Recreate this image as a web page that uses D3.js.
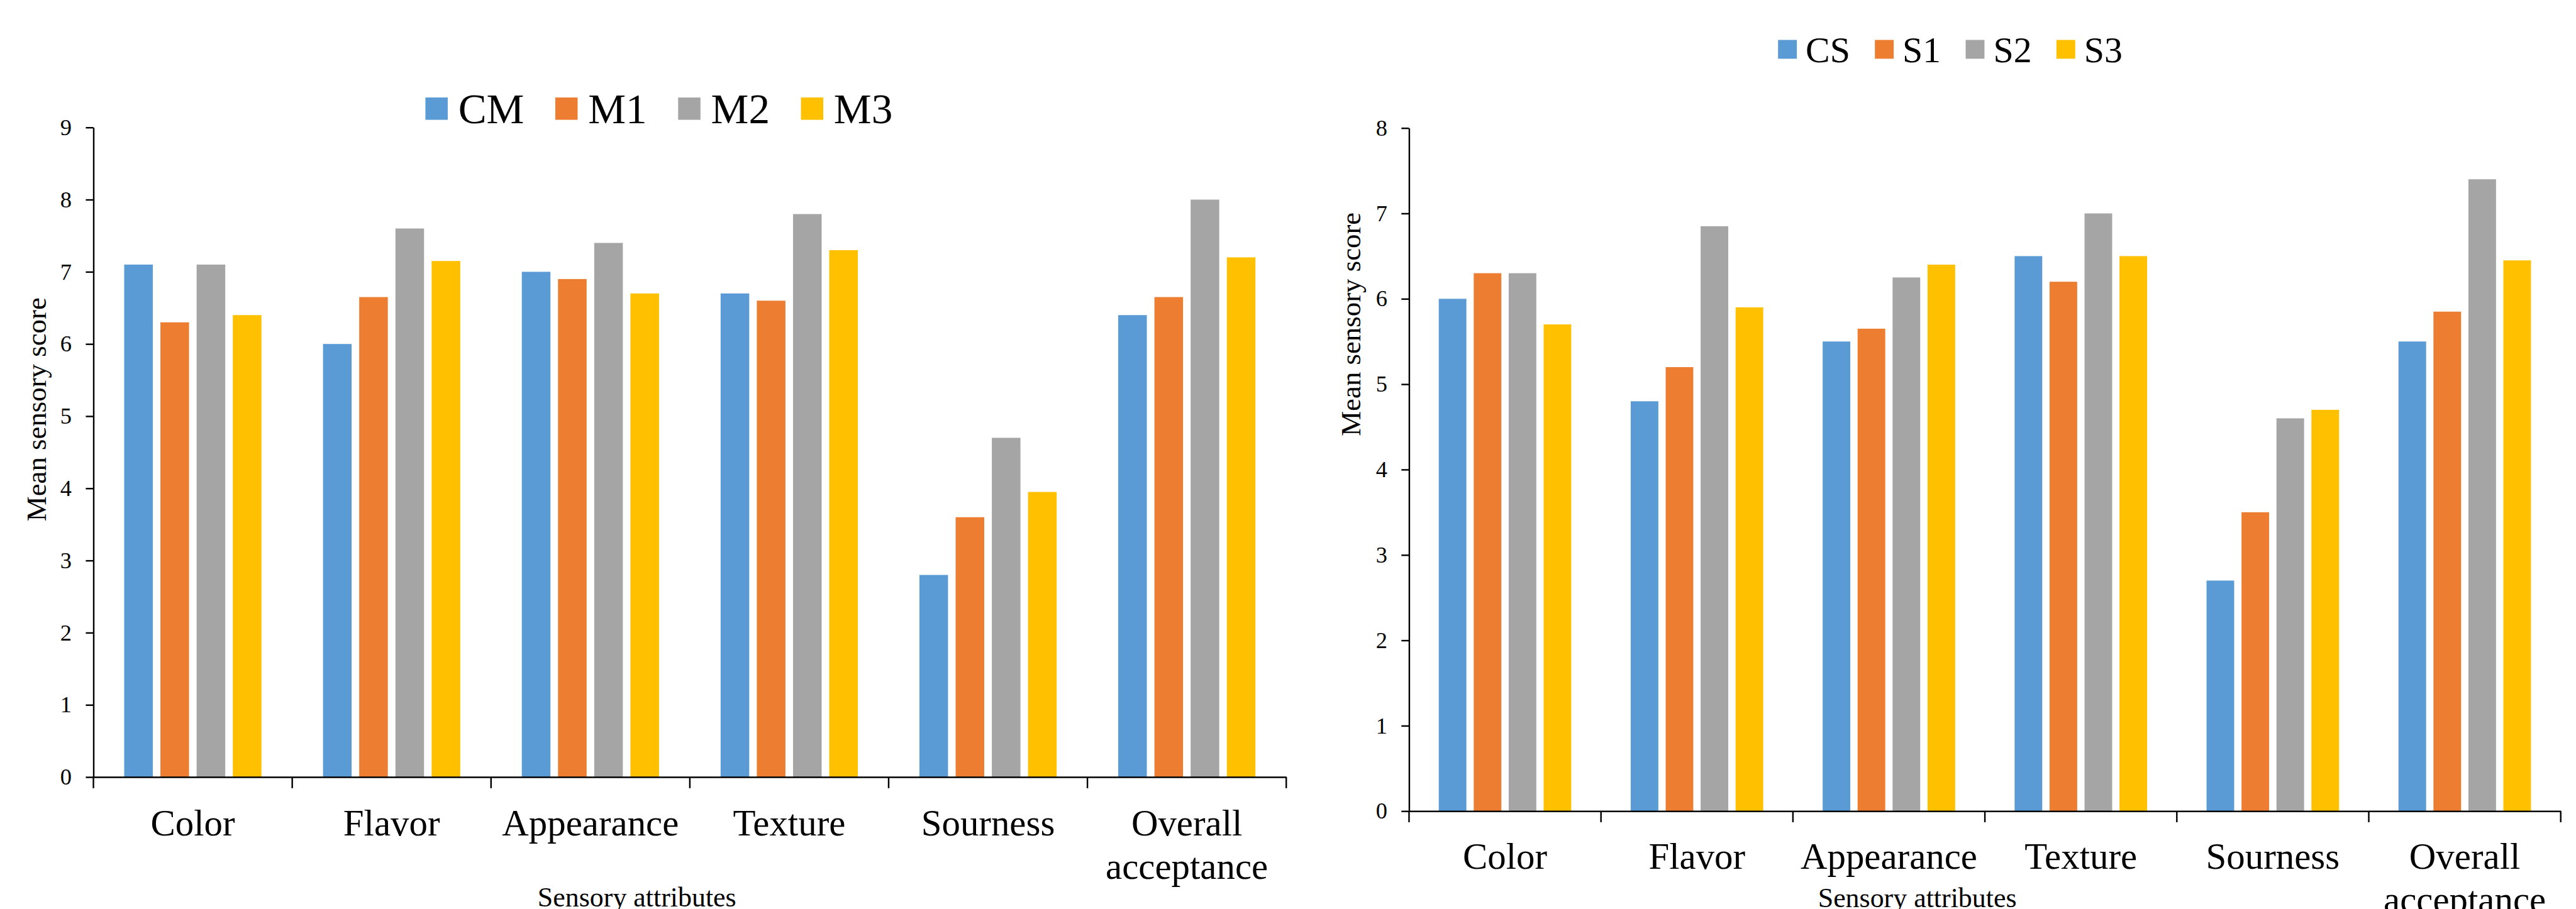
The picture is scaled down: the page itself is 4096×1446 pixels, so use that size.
<!DOCTYPE html>
<html>
<head>
<meta charset="utf-8">
<script src="https://cdn.jsdelivr.net/npm/d3@7"></script>
<style>
  html, body { margin: 0; padding: 0; background: #fff; }
  svg { display: block; }
  text { font-family: "Liberation Serif", "Times New Roman", serif; fill: #000; }
</style>
</head>
<body>
<svg id="chart" width="4096" height="1446"></svg>
<script>
// ---------- data ----------
const categories = ["Color", "Flavor", "Appearance", "Texture", "Sourness", "Overall acceptance"];

const seriesLeft = ["CM", "M1", "M2", "M3"];
const valuesCM = [7.1, 6.0, 7.0, 6.7, 2.8, 6.4];
const valuesM1 = [6.3, 6.65, 6.9, 6.6, 3.6, 6.65];
const valuesM2 = [7.1, 7.6, 7.4, 7.8, 4.7, 8.0];
const valuesM3 = [6.4, 7.15, 6.7, 7.3, 3.95, 7.2];

const seriesRight = ["CS", "S1", "S2", "S3"];
const valuesCS = [6.0, 4.8, 5.5, 6.5, 2.7, 5.5];
const valuesS1 = [6.3, 5.2, 5.65, 6.2, 3.5, 5.85];
const valuesS2 = [6.3, 6.85, 6.25, 7.0, 4.6, 7.4];
const valuesS3 = [5.7, 5.9, 6.4, 6.5, 4.7, 6.45];

const ticksLeft = [0, 1, 2, 3, 4, 5, 6, 7, 8, 9];
const ticksRight = [0, 1, 2, 3, 4, 5, 6, 7, 8];

const seriesColors = ["#5B9BD5", "#ED7D31", "#A5A5A5", "#FFC000"];
const yTitle = "Mean sensory score";
const xTitle = "Sensory attributes";

// ---------- layout (reference pixel space, scaled to window) ----------
const S = 4096 / 4384;
const FONT = '"Liberation Serif", "Times New Roman", serif';
const svg = d3.select("#chart");
const root = svg.append("g").attr("transform", `scale(${S})`);

function drawChart(cfg) {
  const g = root.append("g");
  const x0 = d3.scaleBand().domain(categories).range([cfg.x0, cfg.x1]).padding(0);
  const x1 = d3.scaleBand().domain(cfg.series).range([0, x0.bandwidth()])
    .paddingInner(0.21).paddingOuter(0.85);
  const y = d3.scaleLinear().domain([0, cfg.ymax]).range([cfg.yBottom, cfg.yTop]);

  const rows = categories.map((c, i) => ({
    cat: c,
    vals: cfg.series.map((s, j) => ({ s, j, v: cfg.values[j][i] }))
  }));

  // bars
  g.selectAll("g.grp").data(rows).join("g")
    .attr("transform", d => `translate(${x0(d.cat)},0)`)
    .selectAll("rect").data(d => d.vals).join("rect")
    .attr("x", d => x1(d.s))
    .attr("width", x1.bandwidth())
    .attr("y", d => y(d.v))
    .attr("height", d => y(0) - y(d.v))
    .attr("fill", d => seriesColors[d.j]);

  // y axis
  const ya = d3.axisLeft(y).tickValues(cfg.ticks).tickFormat(d3.format("d"))
    .tickSize(13).tickPadding(24).tickSizeOuter(0);
  const yg = g.append("g").attr("transform", `translate(${cfg.x0},0)`).call(ya);
  yg.attr("font-family", null).attr("font-size", null);
  yg.select(".domain").attr("stroke", "#000").attr("stroke-width", 2.6);
  yg.selectAll(".tick line").attr("stroke", "#000").attr("stroke-width", 2.6);
  yg.selectAll(".tick text").style("font-size", "39px")
    .style("font-family", FONT).attr("fill", "#000");

  // x axis line with boundary ticks
  const xa = d3.axisBottom(x0).tickSize(0).tickFormat("").tickSizeOuter(0);
  const xg = g.append("g").attr("transform", `translate(0,${cfg.yBottom})`).call(xa);
  xg.select(".domain").attr("stroke", "#000").attr("stroke-width", 2.6);
  xg.selectAll(".tick").remove();
  const bounds = categories.map(c => x0(c)).concat([cfg.x1]);
  g.selectAll("line.bnd").data(bounds).join("line")
    .attr("x1", d => d).attr("x2", d => d)
    .attr("y1", cfg.yBottom).attr("y2", cfg.yBottom + 19)
    .attr("stroke", "#000").attr("stroke-width", 2.6);

  // category labels
  const lab = g.selectAll("text.cat").data(categories).join("text")
    .attr("text-anchor", "middle")
    .style("font-size", "63px")
    .attr("x", d => x0(d) + x0.bandwidth() / 2)
    .attr("y", cfg.catBaseline);
  lab.each(function(d) {
    const parts = d.split(" ");
    const t = d3.select(this);
    parts.forEach((p, k) => {
      t.append("tspan").attr("x", x0(d) + x0.bandwidth() / 2)
        .attr("dy", k === 0 ? 0 : 74).text(p);
    });
  });

  // y title
  g.append("text")
    .attr("transform", `translate(${cfg.yTitleX},${cfg.yTitleY}) rotate(-90)`)
    .attr("text-anchor", "middle").style("font-size", "48px").text(yTitle);

  // x title
  g.append("text").attr("x", cfg.xTitleX).attr("y", cfg.xTitleY)
    .attr("text-anchor", "middle").style("font-size", "47px").text(xTitle);

  // legend
  const lg = g.append("g");
  let cx = cfg.legX;
  cfg.series.forEach((s, j) => {
    lg.append("rect").attr("x", cx).attr("y", cfg.legY)
      .attr("width", cfg.legSw).attr("height", cfg.legSw).attr("fill", seriesColors[j]);
    const t = lg.append("text").attr("x", cx + cfg.legSw + cfg.legGap)
      .attr("y", cfg.legBase).style("font-size", cfg.legFont + "px").text(s);
    const w = t.node().getComputedTextLength();
    cx += cfg.legSw + cfg.legGap + w + cfg.legAfter;
  });
}

drawChart({
  series: seriesLeft, values: [valuesCM, valuesM1, valuesM2, valuesM3], ticks: ticksLeft,
  x0: 159, x1: 2189, yBottom: 1323, yTop: 217, ymax: 9,
  catBaseline: 1422, yTitleX: 78, yTitleY: 697, xTitleX: 1084, xTitleY: 1543,
  legX: 724, legY: 166, legSw: 38, legGap: 18, legBase: 210, legFont: 72, legAfter: 53
});

drawChart({
  series: seriesRight, values: [valuesCS, valuesS1, valuesS2, valuesS3], ticks: ticksRight,
  x0: 2398, x1: 4358, yBottom: 1381, yTop: 218, ymax: 8,
  catBaseline: 1479, yTitleX: 2315, yTitleY: 552, xTitleX: 3263, xTitleY: 1545,
  legX: 3026, legY: 68, legSw: 32, legGap: 15, legBase: 106, legFont: 62, legAfter: 42
});
</script>
</body>
</html>
